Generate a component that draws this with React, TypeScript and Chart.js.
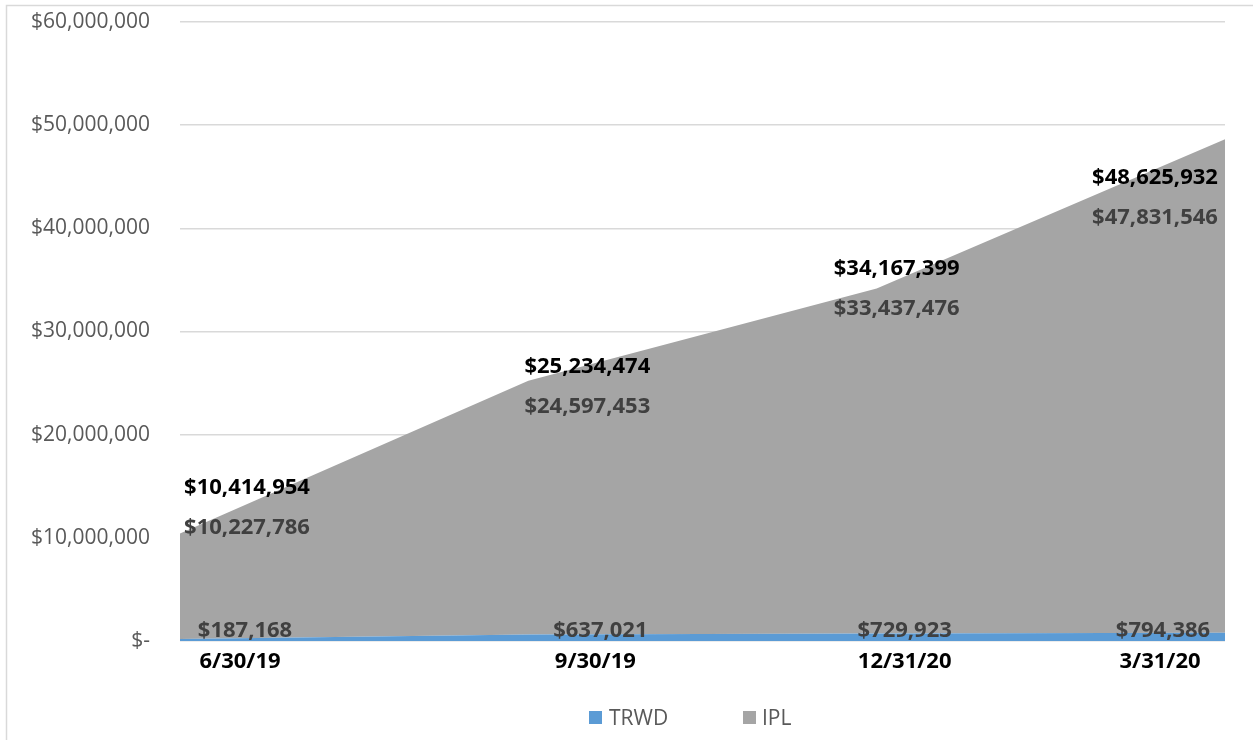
import React, { useEffect, useRef } from "react";
import { Chart, registerables } from "chart.js";

Chart.register(...registerables);

const categories = ["6/30/19", "9/30/19", "12/31/20", "3/31/20"];
const trwdValues = [187168, 637021, 729923, 794386];
const iplValues = [10227786, 24597453, 33437476, 47831546];
const totalValues = [10414954, 25234474, 34167399, 48625932];
const yTickMin = 0;
const yTickMax = 60000000;
const yTickStep = 10000000;

// label placement offsets (px) relative to each point's pixel position
const totalDx = [67, 59, 20, -70];
const totalDy = [-46, -14, -20, 38];
const iplGap = 40;
const trwdDx = [65, 72, 28, -62];
const trwdDy = -10;
const catDx = [60, 67, 28, -65];
const catDy = 21;

const BLUE = "#5b9bd5";
const GRAY = "#a5a5a5";

const fmtMoney = (v: number) => "$" + v.toLocaleString("en-US");

const labelPlugin = {
  id: "customLabels",
  beforeDraw(chart: any) {
    const ctx = chart.ctx;
    ctx.save();
    ctx.strokeStyle = "#d9d9d9";
    ctx.lineWidth = 1.5;
    ctx.strokeRect(6.5, 5.5, 1400, 900);
    ctx.restore();
  },
  afterDatasetsDraw(chart: any) {
    const ctx = chart.ctx;
    const xs = chart.scales.x;
    const ys = chart.scales.y;
    ctx.save();
    ctx.textAlign = "center";
    ctx.textBaseline = "middle";
    const bold = "bold 22px 'Open Sans', sans-serif";
    categories.forEach((cat, i) => {
      const px = xs.getPixelForValue(i);
      const totalY = ys.getPixelForValue(totalValues[i]) + totalDy[i];
      ctx.font = bold;
      ctx.fillStyle = "#000000";
      ctx.fillText(fmtMoney(totalValues[i]), px + totalDx[i], totalY);
      ctx.fillStyle = "#404040";
      ctx.fillText(fmtMoney(iplValues[i]), px + totalDx[i], totalY + iplGap);
      const zeroY = ys.getPixelForValue(0);
      ctx.fillStyle = "#404040";
      ctx.fillText(fmtMoney(trwdValues[i]), px + trwdDx[i], zeroY + trwdDy);
      ctx.fillStyle = "#000000";
      ctx.fillText(cat, px + catDx[i], zeroY + catDy);
    });
    ctx.restore();
  },
};

export default function App() {
  const canvasRef = useRef<HTMLCanvasElement | null>(null);

  useEffect(() => {
    if (!canvasRef.current) return;
    const chart = new Chart(canvasRef.current, {
      type: "line",
      data: {
        labels: categories,
        datasets: [
          {
            label: "TRWD",
            data: trwdValues,
            backgroundColor: BLUE,
            borderColor: BLUE,
            borderWidth: 0,
            pointRadius: 0,
            fill: "origin",
            tension: 0,
          },
          {
            label: "IPL",
            data: iplValues,
            backgroundColor: GRAY,
            borderColor: GRAY,
            borderWidth: 0,
            pointRadius: 0,
            fill: "-1",
            tension: 0,
          },
        ],
      },
      options: {
        animation: false,
        responsive: true,
        maintainAspectRatio: false,
        layout: { padding: { left: 0, right: 28, top: 22, bottom: 99 } },
        plugins: {
          legend: { display: false },
          tooltip: { enabled: false },
        },
        scales: {
          x: { display: false, offset: false },
          y: {
            stacked: true,
            min: yTickMin,
            max: yTickMax,
            afterFit: (scale: any) => {
              scale.width = 180;
              scale.paddingTop = 0;
              scale.paddingBottom = 0;
            },
            border: { display: false },
            grid: { color: "#d9d9d9", lineWidth: 1.5, drawTicks: false },
            ticks: {
              stepSize: yTickStep,
              padding: 30,
              color: "#595959",
              font: { family: "'Open Sans', sans-serif", size: 21 },
              callback: (v: any) => (Number(v) === 0 ? "$-" : fmtMoney(Number(v))),
            },
          },
        },
      },
      plugins: [labelPlugin],
    });
    return () => chart.destroy();
  }, []);

  const legendText: React.CSSProperties = {
    position: "absolute",
    top: 702,
    fontFamily: "'Open Sans', sans-serif",
    fontSize: 21,
    color: "#595959",
    lineHeight: "30px",
  };
  const sq = (left: number, color: string): React.CSSProperties => ({
    position: "absolute",
    left,
    top: 711,
    width: 13,
    height: 13,
    background: color,
  });

  return (
    <div
      style={{
        position: "absolute",
        left: 0,
        top: 0,
        width: 1253,
        height: 740,
        background: "#ffffff",
        overflow: "hidden",
      }}
    >
      <canvas ref={canvasRef} />
      <div style={sq(589, BLUE)} />
      <div style={{ ...legendText, left: 609 }}>TRWD</div>
      <div style={sq(743, GRAY)} />
      <div style={{ ...legendText, left: 762 }}>IPL</div>
    </div>
  );
}
